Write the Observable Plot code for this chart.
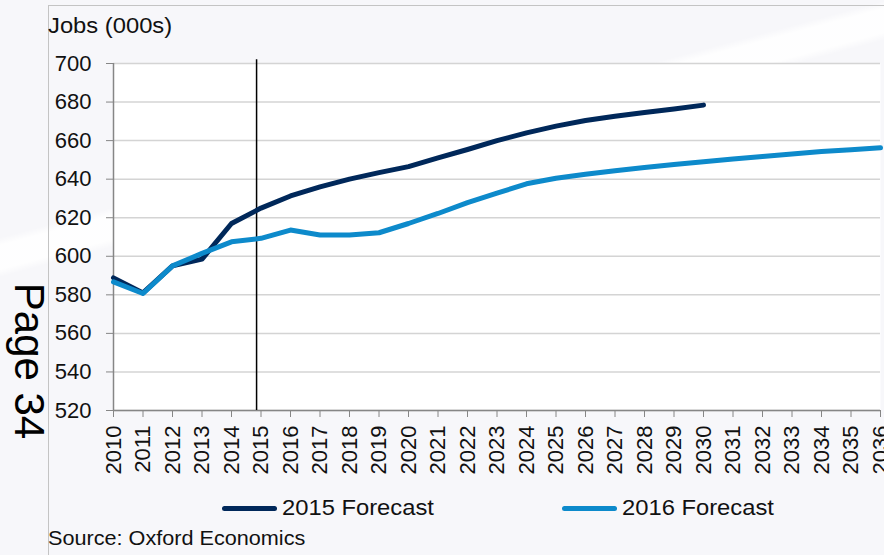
<!DOCTYPE html>
<html>
<head>
<meta charset="utf-8">
<script src="https://cdn.jsdelivr.net/npm/d3@7"></script>
<script src="https://cdn.jsdelivr.net/npm/@observablehq/plot@0.6"></script>
<style>
  html, body { margin: 0; padding: 0; }
  body { width: 884px; height: 555px; overflow: hidden; background: #ffffff; font-family: "Liberation Sans", Arial, sans-serif; }
  #wrap { position: relative; width: 884px; height: 555px; overflow: hidden;
    background:
      linear-gradient(165deg, rgba(255,255,255,0) 0%, rgba(255,255,255,0) 30%, rgba(255,255,255,0.9) 31%, rgba(255,255,255,0.9) 34%, rgba(255,255,255,0) 35%),
      #f7f7fa; }
  #box { position: absolute; left: 48px; top: 5px; width: 840px; height: 560px; border-left: 1.5px solid #c4c4c4; border-top: 1.5px solid #c4c4c4; }
  #chart { position: absolute; left: 0; top: 0; }
  .title { position: absolute; left: 48px; top: 13px; font-size: 22px; color: #111; transform: scaleX(1.08); transform-origin: left center; white-space: nowrap; }
  .page { position: absolute; left: 29px; top: 361px; font-size: 42px; color: #000; transform: translate(-50%, -50%) rotate(90deg); white-space: nowrap; }
  .legend-item { position: absolute; top: 495px; display: flex; align-items: center; font-size: 22px; color: #111; white-space: nowrap; }
  .legend-item span { display: inline-block; transform: scaleX(1.08); transform-origin: left center; }
  .swatch { width: 55px; height: 5px; border-radius: 3px; margin-right: 5px; }
  .source { position: absolute; left: 48px; top: 526px; font-size: 21px; color: #111; transform: scaleX(1.03); transform-origin: left center; white-space: nowrap; }
</style>
</head>
<body>
<div id="wrap">
  <div id="box"></div>
  <div id="chart"></div>
  <div class="title">Jobs (000s)</div>
  <div class="page">Page 34</div>
  <div class="legend-item" style="left:222px"><div class="swatch" style="background:#00285a"></div><span>2015 Forecast</span></div>
  <div class="legend-item" style="left:562px"><div class="swatch" style="background:#0d8acb"></div><span>2016 Forecast</span></div>
  <div class="source">Source: Oxford Economics</div>
</div>
<script>
const years = [2010, 2011, 2012, 2013, 2014, 2015, 2016, 2017, 2018, 2019, 2020, 2021, 2022,
  2023, 2024, 2025, 2026, 2027, 2028, 2029, 2030, 2031, 2032, 2033, 2034, 2035, 2036];
const forecast2015 = [588.8, 581, 595, 598.5, 617, 625, 631.3, 636, 640, 643.4, 646.5, 651, 655.4,
  660, 664, 667.5, 670.4, 672.6, 674.6, 676.4, 678.4];
const forecast2016 = [586.7, 580.7, 595, 601.5, 607.5, 609.3, 613.6, 611, 611, 612.2, 617, 622.2, 627.8,
  632.7, 637.6, 640.5, 642.6, 644.4, 646, 647.6, 649, 650.5, 651.8, 653.1, 654.3, 655.3, 656.3];
const yTicks = [520, 540, 560, 580, 600, 620, 640, 660, 680, 700];
const divider = [2014.85];
const seriesNames = ["2015 Forecast", "2016 Forecast"];
const seriesColors = ["#00285a", "#0d8acb"];

const rows = [];
forecast2015.forEach((v, i) => rows.push({series: seriesNames[0], year: years[i], jobs: v}));
forecast2016.forEach((v, i) => rows.push({series: seriesNames[1], year: years[i], jobs: v}));

const chart = Plot.plot({
  width: 884,
  height: 480,
  marginLeft: 113,
  marginRight: 4,
  marginTop: 63,
  marginBottom: 70,
  style: {background: "transparent", fontFamily: "'Liberation Sans', Arial, sans-serif", color: "#111"},
  x: {domain: [years[0], years[years.length - 1]], ticks: years, tickFormat: "d", label: null},
  y: {domain: [yTicks[0], yTicks[yTicks.length - 1]], ticks: yTicks, label: null},
  color: {domain: seriesNames, range: seriesColors},
  marks: [
    Plot.frame({fill: "white", stroke: null}),
    Plot.gridY(yTicks, {stroke: "#d4d4d4", strokeOpacity: 1, strokeWidth: 1.5}),
    Plot.axisY(yTicks, {tickSize: 7, tickPadding: 15, fontSize: 22, stroke: "#868686", label: null}),
    Plot.axisX(years, {tickSize: 7, tickPadding: 8, tickRotate: -90, fontSize: 22, stroke: "#868686", tickFormat: "d", label: null}),
    Plot.ruleX([years[0]], {stroke: "#868686", strokeWidth: 1.5}),
    Plot.ruleY([yTicks[0]], {stroke: "#868686", strokeWidth: 1.5}),
    Plot.ruleX(divider, {y1: 702, y2: yTicks[0], stroke: "#000", strokeWidth: 1.5}),
    Plot.line(rows, {x: "year", y: "jobs", z: "series", stroke: "series", strokeWidth: 5, strokeLinejoin: "round", strokeLinecap: "round"})
  ]
});
document.getElementById("chart").appendChild(chart);
</script>
</body>
</html>
